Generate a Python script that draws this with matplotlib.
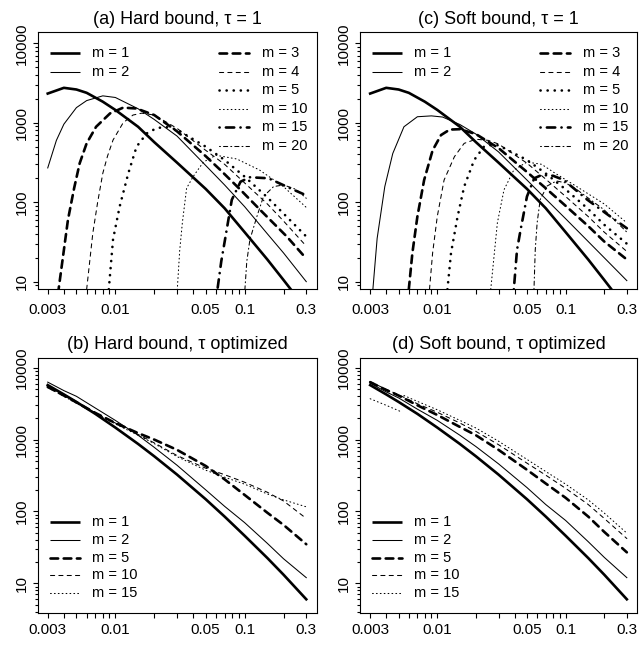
import numpy as np
import matplotlib
matplotlib.use("Agg")
import matplotlib.pyplot as plt
from matplotlib.ticker import FixedLocator, FixedFormatter, NullFormatter

plt.rcParams['font.family'] = ['Liberation Sans', 'DejaVu Sans']
plt.rcParams['lines.scale_dashes'] = False

# ---- data (x = error level, y = bound) ----
# (a) hard bound, tau = 1   /  (c) soft bound, tau = 1   (m=1 identical)
tau1_m1_x = [0.003, 0.004, 0.005, 0.006, 0.008, 0.01, 0.015, 0.02, 0.03, 0.05, 0.07, 0.1, 0.15, 0.2, 0.3]
tau1_m1_y = [2330, 2750, 2620, 2380, 1840, 1450, 890, 570, 315, 147, 84, 42, 19, 10.5, 4.5]

hard_tau1 = {
    2: ([0.003, 0.0035, 0.004, 0.005, 0.006, 0.008, 0.01, 0.015, 0.02, 0.03, 0.05, 0.07, 0.1, 0.15, 0.2, 0.3],
        [270, 600, 960, 1550, 1900, 2180, 2080, 1500, 1100, 680, 290, 165, 88, 40, 23, 10]),
    3: ([0.0036, 0.004, 0.0043, 0.0048, 0.0053, 0.006, 0.0071, 0.0091, 0.0115, 0.0146, 0.02, 0.03, 0.05, 0.065, 0.093, 0.132, 0.212, 0.3],
        [7, 25, 60, 150, 309, 551, 890, 1310, 1550, 1510, 1250, 780, 380, 254, 143, 80, 37, 19.5]),
    4: ([0.006, 0.0067, 0.0073, 0.008, 0.0087, 0.0096, 0.0115, 0.0137, 0.016, 0.02, 0.03, 0.05, 0.07, 0.1, 0.15, 0.2, 0.3],
        [8, 41, 100, 231, 380, 606, 1000, 1250, 1320, 1250, 850, 450, 300, 175, 95, 58, 28]),
    5: ([0.0089, 0.0096, 0.0108, 0.0126, 0.0146, 0.0175, 0.021, 0.025, 0.03, 0.05, 0.07, 0.1, 0.15, 0.2, 0.3],
        [8, 34, 88, 231, 500, 735, 860, 880, 820, 500, 340, 210, 115, 72, 37]),
    10: ([0.030, 0.0315, 0.033, 0.0356, 0.04, 0.048, 0.06, 0.087, 0.13, 0.2, 0.3],
         [7, 25, 55, 150, 210, 320, 390, 350, 255, 157, 86]),
    15: ([0.061, 0.066, 0.0706, 0.0796, 0.093, 0.11, 0.153, 0.225, 0.3],
         [7, 18, 34, 107, 181, 206, 200, 150, 122]),
    20: ([0.1, 0.104, 0.11, 0.1245, 0.14, 0.1675, 0.2, 0.25, 0.3],
         [7, 18, 34, 66, 118, 157, 165, 145, 112]),
}

soft_tau1 = {
    2: ([0.00315, 0.0034, 0.0039, 0.0045, 0.0055, 0.007, 0.009, 0.011, 0.015, 0.02, 0.03, 0.05, 0.07, 0.1, 0.15, 0.2, 0.3],
        [8, 35, 157, 410, 890, 1190, 1220, 1180, 950, 720, 430, 190, 110, 62, 32, 20, 10.3]),
    3: ([0.006, 0.0064, 0.007, 0.0079, 0.0092, 0.0107, 0.0125, 0.015, 0.02, 0.03, 0.05, 0.07, 0.1, 0.15, 0.2, 0.3],
        [8, 23, 66, 190, 450, 700, 820, 830, 720, 480, 240, 150, 90, 50, 32, 19]),
    4: ([0.0087, 0.0092, 0.01, 0.0113, 0.0136, 0.0162, 0.02, 0.025, 0.03, 0.05, 0.07, 0.1, 0.15, 0.2, 0.3],
        [8, 23, 66, 190, 374, 550, 620, 600, 540, 310, 195, 118, 66, 42, 24]),
    5: ([0.012, 0.0128, 0.0144, 0.0162, 0.0194, 0.0231, 0.027, 0.03, 0.05, 0.07, 0.1, 0.15, 0.2, 0.3],
        [8, 23, 66, 157, 340, 500, 530, 520, 340, 230, 145, 82, 52, 30]),
    10: ([0.0261, 0.028, 0.0294, 0.0331, 0.0395, 0.05, 0.065, 0.08, 0.12, 0.2, 0.3],
         [8, 25, 55, 143, 255, 320, 300, 240, 160, 95, 55]),
    15: ([0.0395, 0.0418, 0.0446, 0.05, 0.057, 0.065, 0.08, 0.097, 0.147, 0.223, 0.3],
         [8, 25, 45, 118, 200, 220, 215, 190, 108, 66, 47]),
    20: ([0.0567, 0.058, 0.06, 0.0634, 0.0718, 0.085, 0.1, 0.123, 0.2, 0.3],
         [8, 25, 55, 108, 160, 185, 175, 143, 80, 42]),
}

# (b) hard bound, tau optimized  /  (d) soft bound, tau optimized
opt_x = [0.003, 0.004, 0.005, 0.007, 0.01, 0.015, 0.02, 0.03, 0.05, 0.07, 0.1, 0.15, 0.2, 0.3]
opt_m1_y = [5730, 4250, 3340, 2280, 1470, 870, 586, 326, 148, 85, 46, 22.5, 13.2, 6]

hard_opt = {
    2: [6300, 4800, 4000, 2750, 1850, 1150, 780, 440, 200, 118, 70, 36, 22, 12],
    5: [5400, 4100, 3300, 2350, 1700, 1230, 1000, 720, 430, 280, 170, 96, 65, 35],
    10: [5500, 4200, 3300, 2350, 1700, 1180, 900, 600, 400, 325, 255, 185, 140, 80],
    15: [5300, 4000, 3200, 2300, 1650, 1150, 880, 580, 375, 300, 240, 175, 145, 116],
}
soft_opt = {
    2: [6100, 4600, 3800, 2650, 1850, 1150, 800, 460, 215, 125, 75, 38, 23, 12],
    5: [6300, 4900, 4100, 3000, 2200, 1500, 1150, 720, 380, 245, 155, 85, 52, 27],
    10: [6400, 5000, 4200, 3150, 2400, 1700, 1300, 850, 470, 320, 210, 125, 80, 42],
}
soft_opt_m15_x = [0.003, 0.004, 0.0052, 0.0053, 0.0055, 0.007, 0.01, 0.015, 0.02, 0.03, 0.05, 0.07, 0.1, 0.15, 0.2, 0.3]
soft_opt_m15_y = [3700, 3000, 2450, np.nan, 4100, 3400, 2600, 1850, 1450, 950, 530, 360, 240, 145, 95, 50]

x_major = [0.003, 0.01, 0.05, 0.1, 0.3]
x_major_labels = ['0.003', '0.01', '0.05', '0.1', '0.3']
y_major = [10, 100, 1000, 10000]
y_major_labels = ['10', '100', '1000', '10000']

# line styles (R lty / lwd look-alikes), dashes in points
THICK, THIN = 1.9, 0.75
styles = {
    1: dict(lw=THICK, ls='-'),
    2: dict(lw=THIN, ls='-'),
    3: dict(lw=THICK, ls=(0, (5.5, 4.0))),
    4: dict(lw=THIN, ls=(0, (3.0, 3.0))),
    5: dict(lw=THICK, ls=(0, (0.1, 5.0))),
    10: dict(lw=THIN, ls=(0, (0.6, 2.2))),
    15: dict(lw=THICK, ls=(0, (0.1, 4.5, 6.0, 4.5))),
    20: dict(lw=THIN, ls=(0, (0.7, 2.2, 3.0, 2.2))),
}
opt_styles = {
    1: styles[1], 2: styles[2],
    5: dict(lw=THICK, ls=(0, (5.5, 4.0))),
    10: dict(lw=THIN, ls=(0, (3.0, 3.0))),
    15: dict(lw=THIN, ls=(0, (0.6, 2.2))),
}

W, H = 643, 645
fig = plt.figure(figsize=(W / 100, H / 100), dpi=100)


def make_ax(l, r, t, b):
    return fig.add_axes([l / W, 1 - b / H, (r - l) / W, (b - t) / H])


def style_ax(ax, title, xlim, ylim, xpad):
    ax.set_xscale('log')
    ax.set_yscale('log')
    ax.set_xlim(*xlim)
    ax.set_ylim(*ylim)
    xmin = [v * 10.0 ** k for k in (-3, -2, -1) for v in range(1, 10)]
    xmin = [v for v in xmin if 0.0029 < v < 0.31 and not any(abs(v - m) < 1e-9 for m in x_major)]
    ax.xaxis.set_major_locator(FixedLocator(x_major))
    ax.xaxis.set_major_formatter(FixedFormatter(x_major_labels))
    ax.xaxis.set_minor_locator(FixedLocator(xmin))
    ax.xaxis.set_minor_formatter(NullFormatter())
    ymin = [v * 10.0 ** k for k in range(0, 5) for v in range(2, 10)]
    ymin = [v for v in ymin if ylim[0] < v < ylim[1]]
    ax.yaxis.set_major_locator(FixedLocator(y_major))
    ax.yaxis.set_major_formatter(FixedFormatter(y_major_labels))
    ax.yaxis.set_minor_locator(FixedLocator(ymin))
    ax.yaxis.set_minor_formatter(NullFormatter())
    ax.tick_params(axis='x', which='both', direction='out', length=3.8, width=0.8, labelsize=11, pad=xpad)
    ax.tick_params(axis='y', which='major', direction='out', length=3.8, width=0.8, labelsize=11, pad=2.5)
    ax.tick_params(axis='y', which='minor', direction='out', length=2.0, width=0.8)
    for lab in ax.get_yticklabels():
        lab.set_rotation(90)
        lab.set_va('center')
    for sp in ax.spines.values():
        sp.set_linewidth(0.8)
    ax.set_title(title, fontsize=13, pad=6)


def legend_rows(ax, entries, sty, x0, x1, xt, y0, dy):
    for i, m in enumerate(entries):
        y = y0 - i * dy
        ax.plot([x0, x1], [y, y], transform=ax.transAxes, color='black',
                solid_capstyle='butt', dash_capstyle='round', clip_on=False, **sty[m])
        ax.text(xt, y, f'm = {m}', transform=ax.transAxes, fontsize=10.5, va='center', ha='left')


XLIM = (0.0025, 0.36)
YLIM_TOP = (8.2, 13750)
YLIM_BOT = (3.83, 13780)

panels = [
    ('(a) Hard bound, τ = 1', (37.5, 316.5, 32.3, 288.5), hard_tau1),
    ('(c) Soft bound, τ = 1', (360.0, 637.0, 32.3, 288.5), soft_tau1),
]
for title, box, curves in panels:
    ax = make_ax(*box)
    ax.plot(tau1_m1_x, tau1_m1_y, color='black', dash_capstyle='round', **styles[1])
    for m, (xs, ys) in curves.items():
        ax.plot(xs, ys, color='black', dash_capstyle='round', **styles[m])
    style_ax(ax, title, XLIM, YLIM_TOP, 6.8)
    legend_rows(ax, [1, 2], styles, 0.045, 0.152, 0.195, 0.918, 0.0722)
    legend_rows(ax, [3, 4, 5, 10, 15, 20], styles, 0.65, 0.757, 0.805, 0.918, 0.0722)

panels = [
    ('(b) Hard bound, τ optimized', (37.5, 316.5, 357.7, 613.3), hard_opt),
    ('(d) Soft bound, τ optimized', (360.0, 637.0, 357.7, 613.3), soft_opt),
]
for title, box, curves in panels:
    ax = make_ax(*box)
    ax.plot(opt_x, opt_m1_y, color='black', dash_capstyle='round', **opt_styles[1])
    for m, ys in curves.items():
        ax.plot(opt_x, ys, color='black', dash_capstyle='round', **opt_styles[m])
    if curves is soft_opt:
        ax.plot(soft_opt_m15_x, soft_opt_m15_y, color='black', dash_capstyle='round', **opt_styles[15])
    style_ax(ax, title, XLIM, YLIM_BOT, 3.4)
    legend_rows(ax, [1, 2, 5, 10, 15], opt_styles, 0.045, 0.152, 0.195, 0.358, 0.070)

fig.savefig('out.png', dpi=100)
